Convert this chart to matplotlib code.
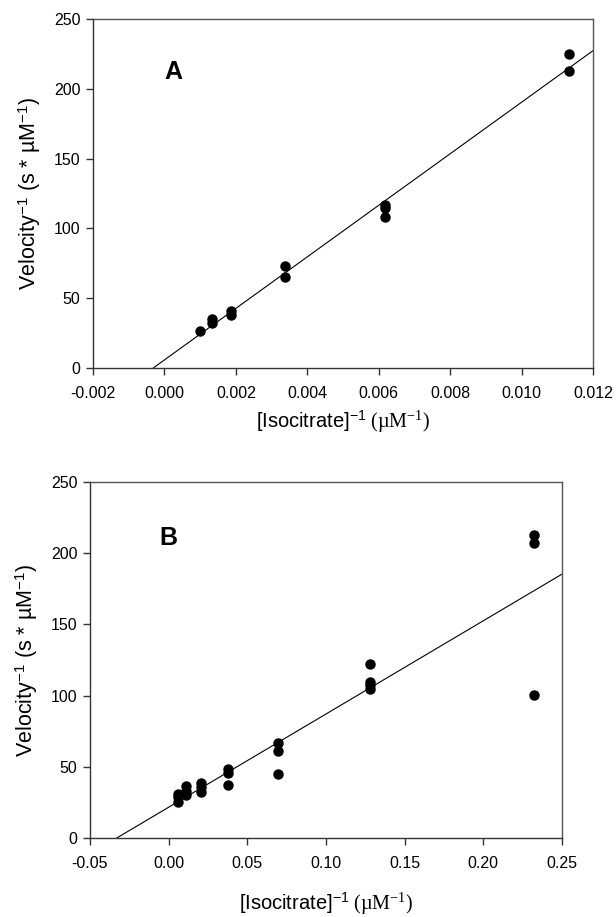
import matplotlib
matplotlib.use("Agg")
import matplotlib.pyplot as plt
import numpy as np

plt.rcParams['font.family'] = ['Liberation Sans', 'DejaVu Sans']
plt.rcParams['mathtext.fontset'] = 'custom'
plt.rcParams['mathtext.rm'] = 'Liberation Serif'
plt.rcParams['mathtext.sf'] = 'Liberation Sans'
plt.rcParams['mathtext.it'] = 'Liberation Serif:italic'

# ---- Panel A data ----
a_x = [0.0010, 0.00134, 0.00134, 0.00185, 0.00185, 0.00337, 0.00337,
       0.00618, 0.00618, 0.00618, 0.01132, 0.01132]
a_y = [26.2, 35.1, 32.2, 41.0, 38.2, 73.2, 65.4,
       117.1, 114.7, 108.3, 225.2, 212.8]
a_slope = 18460.0
a_intercept = 5.78
a_xticks = [-0.002, 0.000, 0.002, 0.004, 0.006, 0.008, 0.010, 0.012]
a_xticklabels = ['-0.002', '0.000', '0.002', '0.004', '0.006', '0.008', '0.010', '0.012']

# ---- Panel B data ----
b_x = [0.0058, 0.0058, 0.0058, 0.0111, 0.0111, 0.0111, 0.0204, 0.0204, 0.0204,
       0.0379, 0.0379, 0.0379, 0.0692, 0.0692, 0.0692,
       0.1278, 0.1278, 0.1278, 0.1278, 0.2322, 0.2322, 0.2322]
b_y = [31.1, 28.7, 25.2, 36.2, 33.2, 30.4, 38.8, 35.5, 32.5,
       48.8, 45.6, 36.9, 66.4, 61.2, 45.1,
       122.0, 109.8, 107.2, 104.7, 213.1, 207.0, 100.7]
b_slope = 654.8
b_intercept = 21.6
b_xticks = [-0.05, 0.00, 0.05, 0.10, 0.15, 0.20, 0.25]
b_xticklabels = ['-0.05', '0.00', '0.05', '0.10', '0.15', '0.20', '0.25']

yticks = [0, 50, 100, 150, 200, 250]

ylabel = r'Velocity$^{\mathsf{-1}}$ (s * µM$^{\mathsf{-1}}$)'
xlabel = r'$\mathsf{[Isocitrate]^{-1}}\ \mathrm{(µM^{-1})}$'

fig = plt.figure(figsize=(6.16, 9.17), dpi=100)
W, H = 616, 917

def make_ax(l, r, t, b):
    return fig.add_axes([l / W, 1 - b / H, (r - l) / W, (b - t) / H])

axA = make_ax(93, 593, 19, 368)
axB = make_ax(90, 562, 482, 838)

def style(ax, xlim, xticks, xticklabels, letter, letter_xy, xlabel_pad):
    ax.set_xlim(*xlim)
    ax.set_ylim(0, 250)
    ax.set_xticks(xticks)
    ax.set_xticklabels(xticklabels)
    ax.set_yticks(yticks)
    ax.tick_params(direction='out', length=5, width=1, labelsize=11.5,
                   color='#333333')
    ax.tick_params(axis='x', pad=8)
    ax.tick_params(axis='y', pad=4)
    for s in ax.spines.values():
        s.set_color('#555555')
        s.set_linewidth(1.0)
    ax.spines['left'].set_color('#333333')
    ax.spines['bottom'].set_color('#333333')
    ax.set_ylabel(ylabel, fontsize=15.5, labelpad=8)
    ax.set_xlabel(xlabel, fontsize=14.5, labelpad=xlabel_pad)
    ax.text(letter_xy[0], letter_xy[1], letter, fontsize=18, fontweight='bold',
            ha='center', va='center')

# Panel A
axA.plot(a_x, a_y, 'o', color='black', ms=6.5, zorder=3)
xa0 = -a_intercept / a_slope
xa = np.array([xa0, 0.012])
axA.plot(xa, a_slope * xa + a_intercept, '-', color='black', lw=0.8)
style(axA, (-0.002, 0.012), a_xticks, a_xticklabels, 'A', (0.00024, 212), 5)

# Panel B
axB.plot(b_x, b_y, 'o', color='black', ms=6.5, zorder=3)
xb0 = -b_intercept / b_slope
xb = np.array([xb0, 0.25])
axB.plot(xb, b_slope * xb + b_intercept, '-', color='black', lw=0.8)
style(axB, (-0.05, 0.25), b_xticks, b_xticklabels, 'B', (0.0001, 211), 14)

fig.savefig('out.png', dpi=100)
